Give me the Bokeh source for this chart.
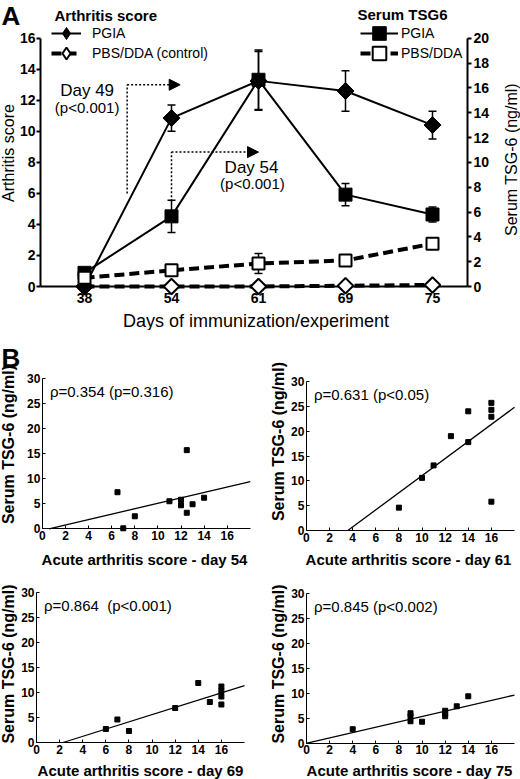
import numpy as np
from bokeh.plotting import figure
from bokeh.models import (Range1d, LinearAxis, FixedTicker, Whisker, TeeHead, ColumnDataSource,
                          Legend, LegendItem, Label, Arrow, NormalHead)
from bokeh.layouts import column, row
from bokeh.embed import file_html
from bokeh.resources import INLINE

FONT = "Liberation Sans"

# ---------------- Panel A data ----------------
days = ["38", "54", "61", "69", "75"]
arth_pgia = [0.0, 10.85, 13.25, 12.6, 10.4]
arth_pgia_err = [0.0, 0.85, 1.9, 1.3, 0.9]
arth_pbs = [0.0, 0.0, 0.0, 0.05, 0.1]
tsg_pgia = [1.1, 5.65, 16.65, 7.4, 5.8]
tsg_pgia_err = [0.3, 1.3, 2.4, 0.9, 0.6]
tsg_pbs = [0.7, 1.3, 1.85, 2.1, 3.45]
tsg_pbs_err = [0.15, 0.15, 0.8, 0.15, 0.3]
arth_ticks = [0, 2, 4, 6, 8, 10, 12, 14, 16]
tsg_ticks = [0, 2, 4, 6, 8, 10, 12, 14, 16, 18, 20]

# ---------------- Panel B data ----------------
score_d54 = [6.5, 7, 8, 11, 12, 12, 12.5, 12.5, 13, 14]
tsg_d54 = [7.3, 0.1, 2.5, 5.5, 5.8, 4.7, 15.7, 3.2, 4.9, 6.2]
score_d61 = [8, 10, 11, 12.5, 14, 14, 16, 16, 16, 16]
tsg_d61 = [4.6, 10.6, 13.1, 19.0, 24.0, 17.8, 25.7, 24.3, 22.9, 5.8]
score_d69 = [6, 7, 8, 12, 14, 15, 16, 16, 16, 16]
tsg_d69 = [2.7, 4.6, 2.3, 6.9, 11.9, 8.1, 11.2, 10.3, 9.2, 7.6]
score_d75 = [4, 9, 9, 9, 10, 12, 12, 12, 13, 14]
tsg_d75 = [2.8, 6.0, 5.4, 4.4, 4.3, 6.5, 5.9, 5.4, 7.4, 9.4]
fit_slope = [0.54, 1.72, 0.726, 0.538]
fit_intercept = [-0.31, -6.16, -1.67, -0.03]
rho_texts = ["\u03c1=0.354 (p=0.316)", "\u03c1=0.631 (p<0.05)",
             "\u03c1=0.864\u00a0 (p<0.001)", "\u03c1=0.845 (p<0.002)"]
b_days = ["54", "61", "69", "75"]
b_xticks = [0, 2, 4, 6, 8, 10, 12, 14, 16]
b_yticks = [0, 5, 10, 15, 20, 25, 30]


class Mapper:
    """Maps canvas pixel positions (from the top-left corner) to data values."""

    def __init__(self, W, H, fx0, fx1, xa, xb, fy0, fy1, ya, yb):
        self.W, self.H = W, H
        self.sx = (fx1 - fx0) / (xb - xa)
        self.sy = (fy0 - fy1) / (yb - ya)  # fy0: pixel row of ya, fy1: pixel row of yb
        self.xs = xa - fx0 / self.sx
        self.xe = xa + (W - fx0) / self.sx
        self.ys = ya - (H - fy0) / self.sy
        self.ye = ya + fy0 / self.sy

    def x(self, fx):
        return self.xs + fx / self.sx

    def y(self, fy):
        return self.ys + (self.H - fy) / self.sy


def style_axis(ax, label_size, tick_in=0, tick_out=0, standoff=2, lw=1):
    ax.minor_tick_line_color = None
    ax.major_tick_in = tick_in
    ax.major_tick_out = tick_out
    ax.major_label_standoff = standoff
    ax.axis_line_width = lw
    ax.major_tick_line_width = lw
    ax.axis_line_color = "black"
    ax.major_tick_line_color = "black"
    ax.major_label_text_font = FONT
    ax.major_label_text_font_style = "bold"
    ax.major_label_text_font_size = label_size
    ax.major_label_text_color = "black"


def text_label(p, x, y, text, size, bold=False, angle=0.0, align="center"):
    p.add_layout(Label(x=x, y=y, text=text, text_font=FONT, text_font_size=size,
                       text_font_style="bold" if bold else "normal", angle=angle,
                       text_align=align, text_baseline="middle", text_color="black"))


# ---------------- Panel A ----------------
WA, HA = 520, 330
mA = Mapper(WA, HA, 84.0, 432.0, 0, 4, 286.0, 37.7, 0, 16)
mT = Mapper(WA, HA, 84.0, 432.0, 0, 4, 286.0, 37.7, 0, 20)
xA = list(range(len(days)))
pA = figure(width=WA, height=HA, x_range=Range1d(mA.xs, mA.xe), y_range=Range1d(mA.ys, mA.ye),
            output_backend="svg", toolbar_location=None, min_border=0)
pA.extra_y_ranges = {"tsg": Range1d(mT.ys, mT.ye)}
pA.outline_line_color = None
pA.grid.visible = False
left_x = mA.x(40.0)
right_x = mA.x(467.0)

xax = pA.xaxis[0]
xax.ticker = FixedTicker(ticks=xA)
xax.major_label_overrides = {i: d for i, d in zip(xA, days)}
xax.fixed_location = 0
xax.bounds = (left_x, right_x)
style_axis(xax, "14px", standoff=6, lw=2)

yax = pA.yaxis[0]
yax.ticker = FixedTicker(ticks=arth_ticks)
yax.fixed_location = left_x
yax.bounds = (0, 16)
style_axis(yax, "14px", tick_out=4, standoff=1, lw=2)

rax = LinearAxis(y_range_name="tsg", ticker=FixedTicker(ticks=tsg_ticks))
rax.fixed_location = right_x
rax.bounds = (0, 20)
style_axis(rax, "14px", tick_out=4, standoff=2, lw=2)
pA.add_layout(rax, "right")


def err_source(mean, err):
    return ColumnDataSource(dict(x=xA, lo=[m - e for m, e in zip(mean, err)],
                                 hi=[m + e for m, e in zip(mean, err)]))


for src, yr in [(err_source(arth_pgia, arth_pgia_err), "default"),
                (err_source(tsg_pgia, tsg_pgia_err), "tsg"),
                (err_source(tsg_pbs, tsg_pbs_err), "tsg")]:
    pA.add_layout(Whisker(base="x", lower="lo", upper="hi", source=src, dimension="height",
                          line_width=1.5, line_color="black", y_range_name=yr,
                          upper_head=TeeHead(size=8, line_width=1.5, line_color="black"),
                          lower_head=TeeHead(size=8, line_width=1.5, line_color="black")))

l_arth_pbs = pA.line(xA, arth_pbs, line_width=4, line_dash="10 5", color="black", level="overlay")
l_tsg_pbs = pA.line(xA, tsg_pbs, line_width=4, line_dash="10 5", color="black",
                    y_range_name="tsg", level="overlay")
l_arth = pA.line(xA, arth_pgia, line_width=2, color="black", level="overlay")
l_tsg = pA.line(xA, tsg_pgia, line_width=2, color="black", y_range_name="tsg", level="overlay")
s_arth_pbs = pA.scatter(xA, arth_pbs, marker="square", angle=np.pi / 4, size=11,
                        fill_color="white", line_color="black", line_width=2, level="overlay")
s_arth = pA.scatter(xA, arth_pgia, marker="square", angle=np.pi / 4, size=12,
                    fill_color="black", line_color="black", level="overlay")
s_tsg = pA.scatter(xA, tsg_pgia, marker="square", size=13, fill_color="black",
                   line_color="black", y_range_name="tsg", level="overlay")
s_tsg_pbs = pA.scatter(xA, tsg_pbs, marker="square", size=12, fill_color="white",
                       line_color="black", line_width=2, y_range_name="tsg", level="overlay")
# diamond-shaped keys for the legend only (hidden in the plot)
k_arth = pA.scatter(xA, arth_pgia, marker="diamond", fill_color="black", line_color="black",
                    visible=False)
k_arth_pbs = pA.scatter(xA, arth_pbs, marker="diamond", fill_color="white", line_color="black",
                        line_width=2, visible=False)

leg_common = dict(padding=0, margin=0, border_line_color=None, background_fill_alpha=0,
                  label_text_font=FONT, label_text_font_size="14px", label_text_color="black",
                  glyph_height=34, spacing=0, label_height=20)
legend_rows = [(33.0, "PGIA", [l_arth, k_arth], "PGIA", [l_tsg, s_tsg]),
               (53.0, "PBS/DDA (control)", [l_arth_pbs, k_arth_pbs], "PBS/DDA",
                [l_tsg_pbs, s_tsg_pbs])]
for cy, lab1, r1, lab2, r2 in legend_rows:
    pA.add_layout(Legend(items=[LegendItem(label=lab1, renderers=r1)],
                         location=(51, HA - (cy + 17)), glyph_width=30, label_standoff=11,
                         **leg_common))
    pA.add_layout(Legend(items=[LegendItem(label=lab2, renderers=r2)],
                         location=(360, HA - (cy + 17)), glyph_width=38, label_standoff=3,
                         **leg_common))
text_label(pA, mA.x(54.0), mA.y(15.0), "Arthritis score", "15px", bold=True, align="left")
text_label(pA, mA.x(357.0), mA.y(14.0), "Serum TSG6", "15px", bold=True, align="left")

dot = dict(line_color="black", line_width=1.5, line_dash="2 2")
pA.add_layout(Arrow(x_start=0.49, y_start=6.0, x_end=0.49, y_end=13.0, end=None, **dot))
pA.add_layout(Arrow(x_start=0.49, y_start=13.0, x_end=1.10, y_end=13.0,
                    end=NormalHead(size=11, fill_color="black", line_color="black"), **dot))
pA.add_layout(Arrow(x_start=1.0, y_start=5.5, x_end=1.0, y_end=8.66, end=None, **dot))
pA.add_layout(Arrow(x_start=1.0, y_start=8.66, x_end=2.0, y_end=8.66,
                    end=NormalHead(size=11, fill_color="black", line_color="black"), **dot))

text_label(pA, 0.03, 12.63, "Day 49", "17px")
text_label(pA, 0.03, 11.53, "(p<0.001)", "15px")
text_label(pA, 1.92, 7.67, "Day 54", "17px")
text_label(pA, 1.93, 6.62, "(p<0.001)", "15px")
text_label(pA, mA.x(7.5), mA.y(152.5), "Arthritis score", "16px", angle=np.pi / 2)
text_label(pA, mA.x(510.5), mA.y(159.0), "Serum TSG-6 (ng/ml)", "16px", angle=np.pi / 2)
text_label(pA, mA.x(255.5), mA.y(320.0), "Days of immunization/experiment", "18px")
text_label(pA, mA.x(10.5), mA.y(15.5), "A", "26px", bold=True)


# ---------------- Panel B ----------------
def make_b(i, xs, ys, W, H, fx0, fx1, fy_top, fy_bot, xlab, ylab):
    m = Mapper(W, H, fx0, fx1, 0, 18, fy_bot, fy_top, 0, 30)
    p = figure(width=W, height=H, x_range=Range1d(m.xs, m.xe), y_range=Range1d(m.ys, m.ye),
               output_backend="svg", toolbar_location=None, min_border=0)
    p.outline_line_color = None
    p.grid.visible = False
    a, b = fit_slope[i], fit_intercept[i]
    fx = [max(0.0, -b / a), 18.0]
    fy = [a * v + b for v in fx]
    p.line(fx, fy, line_width=1.3, color="black", level="overlay")
    p.scatter(xs, ys, marker="square", size=5, fill_color="black", line_color="black",
              level="overlay")
    p.xaxis.ticker = FixedTicker(ticks=b_xticks)
    p.yaxis.ticker = FixedTicker(ticks=b_yticks)
    p.xaxis.fixed_location = 0
    p.yaxis.fixed_location = 0
    p.xaxis.bounds = (0, 18)
    p.yaxis.bounds = (0, 30)
    for ax in [p.xaxis[0], p.yaxis[0]]:
        style_axis(ax, "12px", tick_in=3, standoff=2, lw=1)
    text_label(p, 0.65, 27.4, rho_texts[i], "15px", align="left")
    text_label(p, m.x(xlab[0]), m.y(xlab[1]), "Acute arthritis score - day " + b_days[i],
               "15px", bold=True)
    text_label(p, m.x(ylab[0]), m.y(ylab[1]), "Serum TSG-6 (ng/ml)", "16px", bold=True,
               angle=np.pi / 2)
    return p, m


b1, m1 = make_b(0, score_d54, tsg_d54, 260, 238, 41.9, 249.8, 48.0, 198.3,
                (144.0, 229.0), (8.0, 114.0))
b2, m2 = make_b(1, score_d61, tsg_d61, 260, 238, 45.9, 254.0, 51.0, 200.0,
                (148.0, 229.0), (17.5, 111.0))
b3, m3 = make_b(2, score_d69, tsg_d69, 260, 211, 36.0, 244.0, 24.0, 174.0,
                (140.0, 201.5), (8.0, 95.5))
b4, m4 = make_b(3, score_d75, tsg_d75, 260, 211, 46.0, 254.0, 25.0, 174.7,
                (149.0, 201.5), (17.5, 95.5))
text_label(b1, m1.x(10.5), m1.y(27.5), "B", "26px", bold=True)

layout = column(pA, row(b1, b2), row(b3, b4))
open("out.html", "w").write(file_html(layout, INLINE))
